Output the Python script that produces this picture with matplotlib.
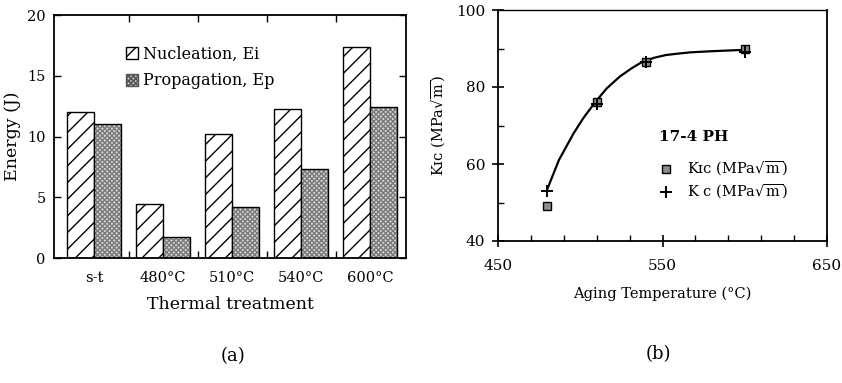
import matplotlib
matplotlib.use("Agg")
import matplotlib.pyplot as plt
from matplotlib.patches import Patch
import numpy as np

# ---------------- data ----------------
treatments = ["s-t", "480°C", "510°C", "540°C", "600°C"]
nucleation_Ei = [12.0, 4.45, 10.2, 12.3, 17.4]
propagation_Ep = [11.0, 1.7, 4.2, 7.3, 12.4]

aging_temp = [480, 510, 540, 600]
K_IC = [49.0, 76.2, 86.5, 90.0]
K_c = [53.0, 75.5, 86.5, 89.0]
fit_temp = [480, 487, 496, 502, 509, 516, 524, 531, 538, 545, 552, 560, 567, 580, 597]
fit_K = [53.5, 61.0, 68.0, 72.0, 76.0, 79.6, 82.7, 84.8, 86.6, 87.6, 88.3, 88.7, 89.0, 89.3, 89.6]

# ---------------- style ----------------
DPI = 100
plt.rcParams["font.family"] = ["DejaVu Serif", "DejaVu Sans"]
plt.rcParams["mathtext.fontset"] = "dejavuserif"
plt.rcParams["hatch.linewidth"] = 1.0
plt.rcParams["axes.linewidth"] = 1.3

fig = plt.figure(figsize=(842 / DPI, 383 / DPI), dpi=DPI)

# ---------------- panel (a) ----------------
ax1 = fig.add_axes([54 / 842, 1 - 258 / 383, (406 - 54) / 842, (258 - 15) / 383])
x = np.arange(len(treatments))
w = 0.39
ax1.bar(x - w / 2, nucleation_Ei, width=w, facecolor="white", edgecolor="black",
        hatch="//", linewidth=1.0)
ax1.bar(x + w / 2, propagation_Ep, width=w, facecolor="#d4d4d4", edgecolor="#7a7a7a",
        hatch="xxxxxxx", linewidth=0)
ax1.bar(x + w / 2, propagation_Ep, width=w, fill=False, edgecolor="black",
        linewidth=1.0)
ax1.set_xlim(-0.58, 4.52)
ax1.set_ylim(0, 20)
ax1.set_yticks([0, 5, 10, 15, 20])
ax1.set_xticks([0.5, 1.5, 2.5, 3.5])
ax1.set_xticklabels([])
ax1.set_xticks(x, treatments, minor=True)
ax1.tick_params(axis="x", which="minor", length=0, pad=9, labelsize=10.5)
ax1.tick_params(axis="both", which="major", direction="in", top=True, right=True,
                length=5, width=1.0, labelsize=10.5)
ax1.tick_params(axis="y", pad=6)
ax1.set_ylabel("Energy (J)", fontsize=12.5, labelpad=4)
ax1.set_xlabel("Thermal treatment", fontsize=12.5, labelpad=8)

handles = [Patch(facecolor="white", edgecolor="black", hatch="//", linewidth=1.0),
           Patch(facecolor="#bcbcbc", edgecolor="#555555", hatch="xxxxxxx", linewidth=1.0)]
leg = ax1.legend(handles, ["Nucleation, Ei", "Propagation, Ep"], loc="upper left",
                 bbox_to_anchor=(0.185, 0.9), frameon=False, fontsize=11.5,
                 handlelength=0.8, handleheight=0.8, handletextpad=0.3,
                 labelspacing=0.6, borderaxespad=0)

fig.text(233 / 842, 1 - 356 / 383, "(a)", ha="center", va="center", fontsize=13)

# ---------------- panel (b) ----------------
ax2 = fig.add_axes([498 / 842, 1 - 241 / 383, (827 - 498) / 842, (241 - 10) / 383])
ax2.plot(fit_temp, fit_K, color="black", linewidth=1.6, zorder=2)
ax2.plot(aging_temp, K_IC, linestyle="none", marker="s", markersize=5.5,
         markerfacecolor="#8c8c8c", markeredgecolor="black", markeredgewidth=1.0, zorder=3)
ax2.plot(aging_temp, K_c, linestyle="none", marker="+", markersize=8,
         color="black", markeredgewidth=1.4, zorder=4)
ax2.set_xlim(450, 650)
ax2.set_ylim(40, 100)
ax2.set_xticks([450, 550, 650])
ax2.set_xticks(np.arange(470, 650, 20), minor=True)
ax2.set_yticks([40, 60, 80, 100])
ax2.set_yticks([50, 70, 90], minor=True)
ax2.spines["top"].set_linewidth(1.0)
ax2.spines["right"].set_linewidth(1.3)
ax2.tick_params(axis="both", which="major", direction="out", length=5, width=1.2,
                labelsize=11, pad=5)
ax2.tick_params(axis="both", which="minor", direction="in", length=4, width=1.0)
ax2.tick_params(axis="x", which="major", direction="inout", length=8, pad=9)
ax2.tick_params(axis="y", which="major", direction="inout", length=8)
ax2.set_ylabel("Kɪᴄ (MPa$\\sqrt{\\mathrm{m}}$)", fontsize=10.5, labelpad=6)
ax2.set_xlabel("Aging Temperature (°C)", fontsize=10.5, labelpad=10)

ax2.text(548, 67, "17-4 PH", fontsize=11, fontweight="bold", ha="left", va="center")
ax2.plot([552], [58.7], linestyle="none", marker="s", markersize=5.5,
         markerfacecolor="#8c8c8c", markeredgecolor="black", markeredgewidth=1.0)
ax2.plot([552], [52.7], linestyle="none", marker="+", markersize=8,
         color="black", markeredgewidth=1.4)
ax2.text(565, 58.7, "Kɪᴄ (MPa$\\sqrt{\\mathrm{m}}$)", fontsize=10.5, ha="left", va="center")
ax2.text(565, 52.7, "K c (MPa$\\sqrt{\\mathrm{m}}$)", fontsize=10.5, ha="left", va="center")

fig.text(658 / 842, 1 - 354 / 383, "(b)", ha="center", va="center", fontsize=13)

fig.savefig("out.png", dpi=DPI)
